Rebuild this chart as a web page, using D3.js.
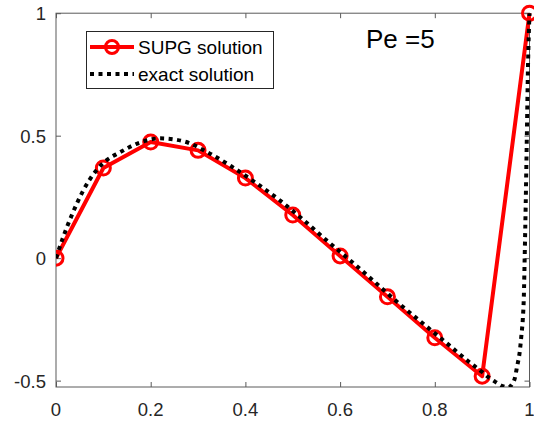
<!DOCTYPE html>
<html>
<head>
<meta charset="utf-8">
<script src="https://cdn.jsdelivr.net/npm/d3@7"></script>
<style>
  html, body { margin: 0; padding: 0; background: #fff; }
  text { font-family: "Liberation Sans", Arial, sans-serif; }
</style>
</head>
<body>
<div id="chart"></div>
<script>
// SUPG nodal solution
const supgX = [0, 0.1, 0.2, 0.3, 0.4, 0.5, 0.6, 0.7, 0.8, 0.9, 1];
const supgY = [0, 0.368, 0.474, 0.44, 0.327, 0.176, 0.009, -0.158, -0.325, -0.482, 1];

// exact solution
const exactX = [0, 0.015, 0.035, 0.058, 0.086, 0.103, 0.135, 0.177, 0.22, 0.27, 0.32, 0.37,
    0.42, 0.47, 0.52, 0.57, 0.62, 0.67, 0.72, 0.78, 0.83, 0.87, 0.9, 0.913, 0.927, 0.943,
    0.955, 0.963, 0.969, 0.974, 0.979, 0.983, 0.986, 0.988, 0.99, 0.992, 0.994, 0.997, 1];
const exactY = [0, 0.085, 0.183, 0.278, 0.36, 0.394, 0.432, 0.472, 0.489, 0.477, 0.432, 0.375,
    0.31, 0.24, 0.16, 0.075, -0.007, -0.092, -0.178, -0.275, -0.355, -0.42, -0.465, -0.486, -0.504, -0.522,
    -0.527, -0.515, -0.49, -0.44, -0.388, -0.313, -0.245, -0.16, 0.02, 0.22, 0.45, 0.8, 1];

const xTicks = [0, 0.2, 0.4, 0.6, 0.8, 1];
const yTicks = [-0.5, 0, 0.5, 1];
const legendLabels = ["SUPG solution", "exact solution"];
const annotation = "Pe =5";

const width = 534, height = 424;
const pLeft = 56, pRight = 529.5, pTop = 13.2, pBottom = 387;

const svg = d3.select("#chart").append("svg")
    .attr("width", width)
    .attr("height", height);

const x = d3.scaleLinear().domain([0, 1]).range([pLeft, pRight]);
const y = d3.scaleLinear().domain([-0.526, 1]).range([pBottom, pTop]);

svg.append("defs").append("clipPath").attr("id", "clip")
    .append("rect")
    .attr("x", pLeft).attr("y", pTop - 10)
    .attr("width", pRight - pLeft + 10).attr("height", pBottom - pTop + 10);

const axisColor = "#5a5a5a";
const textColor = "#262626";

// axes, ticks inward like matlab
const bx = svg.append("g")
    .attr("transform", `translate(0,${pBottom})`)
    .call(d3.axisTop(x).tickValues(xTicks).tickSize(5).tickFormat(""));
const tx = svg.append("g")
    .attr("transform", `translate(0,${pTop})`)
    .call(d3.axisBottom(x).tickValues(xTicks).tickSize(5).tickFormat(""));
const ly = svg.append("g")
    .attr("transform", `translate(${pLeft},0)`)
    .call(d3.axisRight(y).tickValues(yTicks).tickSize(5).tickFormat(""));
const ry = svg.append("g")
    .attr("transform", `translate(${pRight},0)`)
    .call(d3.axisLeft(y).tickValues(yTicks).tickSize(5).tickFormat(""));
[bx, tx, ly, ry].forEach(g => {
    g.select(".domain").remove();
    g.selectAll(".tick line").attr("stroke", axisColor);
});
svg.append("rect")
    .attr("x", pLeft).attr("y", pTop)
    .attr("width", pRight - pLeft).attr("height", pBottom - pTop)
    .attr("fill", "none")
    .attr("stroke", axisColor)
    .attr("stroke-width", 1);

svg.selectAll(".xlab")
    .data(xTicks)
    .enter()
    .append("text")
    .attr("x", d => x(d))
    .attr("y", 416)
    .attr("text-anchor", "middle")
    .attr("fill", textColor)
    .style("font-size", "18.5px")
    .text(d => String(d));

svg.selectAll(".ylab")
    .data(yTicks)
    .enter()
    .append("text")
    .attr("x", 46)
    .attr("y", d => y(d) + 7)
    .attr("text-anchor", "end")
    .attr("fill", textColor)
    .style("font-size", "18.5px")
    .text(d => String(d));

const supg = supgX.map((v, i) => ({ x: v, y: supgY[i] }));
const exact = exactX.map((v, i) => ({ x: v, y: exactY[i] }));

const plot = svg.append("g").attr("clip-path", "url(#clip)");

const line = d3.line().x(d => x(d.x)).y(d => y(d.y));

plot.append("path")
    .datum(supg)
    .attr("d", line)
    .attr("fill", "none")
    .attr("stroke", "#ff0000")
    .attr("stroke-width", 4)
    .attr("stroke-linejoin", "round");

plot.selectAll(".marker")
    .data(supg)
    .enter()
    .append("circle")
    .attr("cx", d => x(d.x))
    .attr("cy", d => y(d.y))
    .attr("r", 7)
    .attr("fill", "none")
    .attr("stroke", "#ff0000")
    .attr("stroke-width", 3);

plot.append("path")
    .datum(exact)
    .attr("d", line.curve(d3.curveMonotoneX))
    .attr("fill", "none")
    .attr("stroke", "#000")
    .attr("stroke-width", 4)
    .attr("stroke-dasharray", "4,4.5");

// legend
const lg = svg.append("g");
lg.append("rect")
    .attr("x", 86.5).attr("y", 31.5)
    .attr("width", 187).attr("height", 57)
    .attr("fill", "#fff")
    .attr("stroke", textColor)
    .attr("stroke-width", 1);
lg.append("line")
    .attr("x1", 90).attr("x2", 134).attr("y1", 47).attr("y2", 47)
    .attr("stroke", "#ff0000").attr("stroke-width", 4);
lg.append("circle")
    .attr("cx", 112).attr("cy", 47).attr("r", 6.5)
    .attr("fill", "none").attr("stroke", "#ff0000").attr("stroke-width", 3);
lg.append("line")
    .attr("x1", 90).attr("x2", 134).attr("y1", 74).attr("y2", 74)
    .attr("stroke", "#000").attr("stroke-width", 4)
    .attr("stroke-dasharray", "4,4.5");
lg.selectAll(".ltext")
    .data(legendLabels)
    .enter()
    .append("text")
    .attr("x", 138)
    .attr("y", (d, i) => 54 + i * 27)
    .attr("fill", "#000")
    .style("font-size", "19px")
    .text(d => d);

svg.append("text")
    .attr("x", 366)
    .attr("y", 48)
    .attr("fill", "#000")
    .style("font-size", "26px")
    .text(annotation);
</script>
</body>
</html>
